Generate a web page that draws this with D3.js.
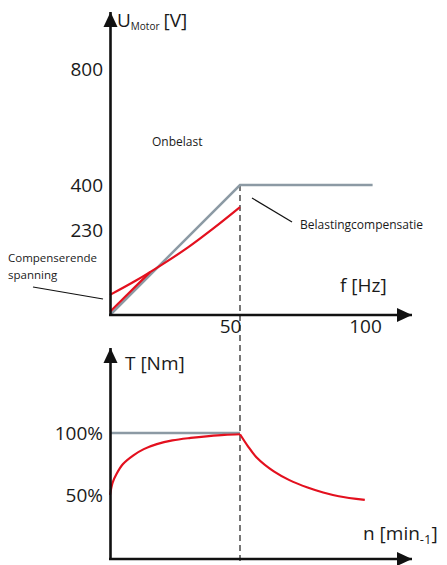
<!DOCTYPE html>
<html><head><meta charset="utf-8">
<script src="https://cdn.jsdelivr.net/npm/d3@7"></script>
<style>
body{margin:0;background:#fff;}
svg{display:block;font-family:"Open Sans",sans-serif;}
</style></head>
<body><svg id="c" width="447" height="565"></svg>
<script>
// ---- data ----
const uTicks = [230, 400, 800];
const fTicks = [50, 100];
const tTicks = [50, 100];
const tTickLabels = ["50%", "100%"];
// U/f characteristic (gray): frequency [Hz], voltage [V]
const greyF = [0, 50, 101];
const greyU = [0, 400, 400];
// compensated U/f (red curve)
const redF = [0, 10, 20, 30, 40, 50];
const redU = [62, 106, 155, 208, 268, 332];
// red start segment
const redStartF = [0, 15.4];
const redStartU = [10, 132];
// torque: constant (gray) and actual (red)
const tGreyN = [0, 50];
const tGreyT = [100, 100];
const tRiseN = [0, 1, 2.5, 5, 9, 13, 18, 24, 31, 38, 44, 50];
const tRiseT = [50, 60, 67, 75, 82, 87, 91, 94, 96, 97.5, 98.5, 99];
const tFallN = [50, 53, 56.5, 63, 69, 76, 82, 88, 98];
const tFallT = [99, 89.5, 80, 69, 62, 56, 52, 49, 46];

const RED = "#e3101e", GREY = "#8c9aa4", INK = "#111";
const svg = d3.select("#c");

// ---- scales ----
const x = d3.scaleLinear().domain([0, 50]).range([110, 240]);
const yU = d3.scaleLinear().domain([0, 400]).range([315, 185]);
const yULabel = d3.scaleLinear().domain([0, 230, 400, 800]).range([315, 230, 185, 69]);
const xLabel = d3.scaleLinear().domain([0, 50, 100]).range([110, 230, 365]);
const yT = d3.scaleLinear().domain([0, 100]).range([557, 433]);

const zip = (a, b) => a.map((v, i) => [v, b[i]]);
const smooth = d3.curveCatmullRom.alpha(0.5);

// ---- dashed guide at 50 Hz ----
svg.append("line").attr("x1", x(50)).attr("x2", x(50))
  .attr("y1", yU(400)).attr("y2", 565)
  .attr("stroke", "#555").attr("stroke-width", 1.6).attr("stroke-dasharray", "6,4");

// ---- top chart lines ----
const lineTop = d3.line().x(d => x(d[0])).y(d => yU(d[1]));
svg.append("path").attr("d", lineTop(zip(greyF, greyU)))
  .attr("fill", "none").attr("stroke", GREY).attr("stroke-width", 2.5);
svg.append("path").attr("d", lineTop(zip(redStartF, redStartU)))
  .attr("fill", "none").attr("stroke", RED).attr("stroke-width", 2.2);
svg.append("path").attr("d", d3.line().x(d => x(d[0])).y(d => yU(d[1])).curve(smooth)(zip(redF, redU)))
  .attr("fill", "none").attr("stroke", RED).attr("stroke-width", 2.2);

// ---- bottom chart lines ----
const lineBot = d3.line().x(d => x(d[0])).y(d => yT(d[1]));
svg.append("path").attr("d", lineBot(zip(tGreyN, tGreyT)))
  .attr("fill", "none").attr("stroke", GREY).attr("stroke-width", 2.5);
const lineBotC = d3.line().x(d => x(d[0])).y(d => yT(d[1])).curve(smooth);
svg.append("path").attr("d", lineBotC(zip(tRiseN, tRiseT)))
  .attr("fill", "none").attr("stroke", RED).attr("stroke-width", 2.2);
svg.append("path").attr("d", lineBotC(zip(tFallN, tFallT)))
  .attr("fill", "none").attr("stroke", RED).attr("stroke-width", 2.2);

// ---- axes with arrows ----
function arrowAxis(x1, y1, x2, y2) {
  svg.append("line").attr("x1", x1).attr("y1", y1).attr("x2", x2).attr("y2", y2)
    .attr("stroke", INK).attr("stroke-width", 2.6);
  const ang = Math.atan2(y2 - y1, x2 - x1), L = 15, W = 7;
  const bx = x2 - L * Math.cos(ang), by = y2 - L * Math.sin(ang);
  const px = -Math.sin(ang) * W, py = Math.cos(ang) * W;
  svg.append("path").attr("d", `M${x2},${y2}L${bx + px},${by + py}L${bx - px},${by - py}Z`).attr("fill", INK);
}
arrowAxis(110.5, 316, 110.5, 12);
arrowAxis(109, 315, 412, 315);
arrowAxis(110.5, 560, 110.5, 348);
arrowAxis(109, 559, 412, 559);

// tick labels via d3 axes
const gyU = svg.append("g").attr("transform", "translate(110,0)")
  .call(d3.axisLeft(yULabel).tickValues(uTicks).tickSize(0).tickPadding(7));
const gx = svg.append("g").attr("transform", "translate(0,315)")
  .call(d3.axisBottom(xLabel).tickValues(fTicks).tickSize(0).tickPadding(4.5));
const gyT = svg.append("g").attr("transform", "translate(110,0)")
  .call(d3.axisLeft(yT).tickValues(tTicks).tickSize(0).tickPadding(7)
    .tickFormat((d, i) => tTickLabels[i]));
[gyU, gx, gyT].forEach(g => {
  g.select(".domain").remove();
  g.selectAll("text").attr("font-size", 19).attr("fill", "#1a1a1a").attr("font-family", "Open Sans");
});

// ---- axis titles ----
const tU = svg.append("text").attr("x", 117).attr("y", 27).attr("font-size", 19).attr("fill", "#1a1a1a");
tU.append("tspan").text("U");
tU.append("tspan").attr("font-size", 10).attr("dy", 3).text("Motor");
tU.append("tspan").attr("dy", -3).attr("dx", 4).text("[V]");

svg.append("text").attr("x", 340).attr("y", 292).attr("font-size", 19).attr("fill", "#1a1a1a").text("f [Hz]");
svg.append("text").attr("x", 125).attr("y", 370).attr("font-size", 19).attr("fill", "#1a1a1a").text("T [Nm]");
const tN = svg.append("text").attr("x", 363).attr("y", 540).attr("font-size", 19).attr("fill", "#1a1a1a");
tN.append("tspan").text("n [min");
tN.append("tspan").attr("font-size", 13).attr("dy", 4).text("-1");
tN.append("tspan").attr("dy", -4).text("]");

// ---- annotations ----
svg.append("text").attr("x", 152).attr("y", 146).attr("font-size", 12).attr("fill", "#1a1a1a").text("Onbelast");
svg.append("text").attr("x", 300).attr("y", 229).attr("font-size", 12).attr("fill", "#1a1a1a").text("Belastingcompensatie");
svg.append("line").attr("x1", 252).attr("y1", 198).attr("x2", 292).attr("y2", 222)
  .attr("stroke", INK).attr("stroke-width", 1.2);
svg.append("text").attr("x", 8).attr("y", 262).attr("font-size", 11.5).attr("fill", "#1a1a1a").text("Compenserende");
svg.append("text").attr("x", 8).attr("y", 279).attr("font-size", 11.5).attr("fill", "#1a1a1a").text("spanning");
svg.append("line").attr("x1", 33).attr("y1", 287).attr("x2", 103).attr("y2", 299)
  .attr("stroke", INK).attr("stroke-width", 1.2);
</script></body></html>
